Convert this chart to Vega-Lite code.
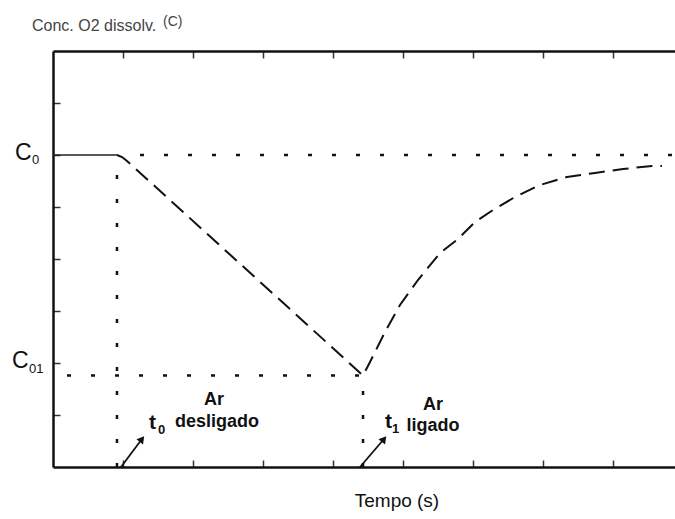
{
  "$schema": "https://vega.github.io/schema/vega-lite/v6.json",
  "width": 622,
  "height": 416,
  "autosize": {"type": "none"},
  "padding": {"left": 53, "top": 51, "right": 0, "bottom": 52},
  "background": "white",
  "config": {
    "view": {"stroke": null},
    "font": "Liberation Sans",
    "axis": {"grid": false, "labels": false, "title": null, "domainColor": "#111", "domainWidth": 2.5, "tickColor": "#333", "tickWidth": 1.5, "tickSize": -7}
  },
  "datasets": {
    "curve": [
      {"t": 0, "c": 6, "seg": "flat"},
      {"t": 0.914, "c": 6, "seg": "flat"},
      {"t": 0.914, "c": 6, "seg": "dash"},
      {"t": 0.986, "c": 5.96, "seg": "dash"},
      {"t": 1.057, "c": 5.885, "seg": "dash"},
      {"t": 4.429, "c": 1.76, "seg": "dash"},
      {"t": 4.529, "c": 2.019, "seg": "dash"},
      {"t": 4.743, "c": 2.596, "seg": "dash"},
      {"t": 4.957, "c": 3.115, "seg": "dash"},
      {"t": 5.214, "c": 3.596, "seg": "dash"},
      {"t": 5.529, "c": 4.115, "seg": "dash"},
      {"t": 5.786, "c": 4.385, "seg": "dash"},
      {"t": 6.029, "c": 4.712, "seg": "dash"},
      {"t": 6.286, "c": 4.942, "seg": "dash"},
      {"t": 6.6, "c": 5.192, "seg": "dash"},
      {"t": 6.957, "c": 5.423, "seg": "dash"},
      {"t": 7.343, "c": 5.577, "seg": "dash"},
      {"t": 7.743, "c": 5.654, "seg": "dash"},
      {"t": 8.143, "c": 5.731, "seg": "dash"},
      {"t": 8.557, "c": 5.788, "seg": "dash"},
      {"t": 8.7, "c": 5.788, "seg": "dash"}
    ],
    "guides": [
      {"x1": 1.243, "y1": 6, "x2": 8.886, "y2": 6},
      {"x1": 0.2, "y1": 1.76, "x2": 4.43, "y2": 1.76},
      {"x1": 0.914, "y1": 0, "x2": 0.914, "y2": 6},
      {"x1": 4.429, "y1": 0, "x2": 4.429, "y2": 1.76}
    ],
    "arrows": [
      {"x1": 0.971, "y1": 0, "x2": 1.271, "y2": 0.538},
      {"x1": 4.386, "y1": 0, "x2": 4.729, "y2": 0.538}
    ],
    "texts": [
      {"x": -0.3, "y": 8.385, "label": "Conc. O2 dissolv.", "role": "head"},
      {"x": 1.571, "y": 8.48, "label": "(C)", "role": "headSmall"},
      {"x": -0.543, "y": 5.904, "label": "C", "role": "clabel"},
      {"x": -0.3, "y": 5.827, "label": "0", "role": "csub"},
      {"x": -0.586, "y": 1.904, "label": "C", "role": "clabel"},
      {"x": -0.343, "y": 1.808, "label": "01", "role": "csub"},
      {"x": 2.3, "y": 1.183, "label": "Ar", "role": "annot"},
      {"x": 2.343, "y": 0.77, "label": "desligado", "role": "annot"},
      {"x": 5.429, "y": 1.096, "label": "Ar", "role": "annot"},
      {"x": 5.429, "y": 0.692, "label": "ligado", "role": "annot"},
      {"x": 1.371, "y": 0.731, "label": "t", "role": "tmain"},
      {"x": 1.5, "y": 0.635, "label": "0", "role": "tsub"},
      {"x": 4.743, "y": 0.75, "label": "t", "role": "tmain"},
      {"x": 4.843, "y": 0.654, "label": "1", "role": "tsub"},
      {"x": 4.914, "y": -0.77, "label": "Tempo (s)", "role": "xtitle"}
    ]
  },
  "layer": [
    {
      "data": {"name": "curve"},
      "transform": [{"filter": "datum.seg === 'flat'"}],
      "mark": {"type": "line", "color": "#222", "strokeWidth": 1.3},
      "encoding": {
        "x": {"field": "t", "type": "quantitative", "scale": {"domain": [0, 8.886], "nice": false, "zero": false},
              "axis": {"orient": "bottom", "values": [1, 2, 3, 4, 5, 6, 7, 8]}},
        "y": {"field": "c", "type": "quantitative", "scale": {"domain": [0, 8], "nice": false, "zero": false},
              "axis": {"orient": "left", "values": [1, 2, 3, 4, 5, 6, 7]}},
        "order": {"field": "t"}
      }
    },
    {
      "data": {"name": "curve"},
      "transform": [{"filter": "datum.seg === 'flat'"}],
      "mark": {"type": "line", "opacity": 0},
      "encoding": {
        "x": {"field": "t", "type": "quantitative", "axis": {"orient": "top", "values": [1, 2, 3, 4, 5, 6, 7, 8]}},
        "y": {"field": "c", "type": "quantitative"}
      }
    },
    {
      "data": {"name": "curve"},
      "transform": [{"filter": "datum.seg === 'dash'"}],
      "mark": {"type": "line", "color": "#111", "strokeWidth": 2, "strokeDash": [16, 8], "strokeCap": "butt"},
      "encoding": {
        "x": {"field": "t", "type": "quantitative", "axis": null},
        "y": {"field": "c", "type": "quantitative"},
        "order": {"field": "t"}
      }
    },
    {
      "data": {"name": "guides"},
      "mark": {"type": "rule", "color": "#111", "strokeWidth": 2.5, "strokeDash": [4, 20], "strokeCap": "butt"},
      "encoding": {
        "x": {"field": "x1", "type": "quantitative", "axis": null},
        "y": {"field": "y1", "type": "quantitative"},
        "x2": {"field": "x2"},
        "y2": {"field": "y2"}
      }
    },
    {
      "data": {"name": "arrows"},
      "mark": {"type": "rule", "color": "#111", "strokeWidth": 1.8},
      "encoding": {
        "x": {"field": "x1", "type": "quantitative", "axis": null},
        "y": {"field": "y1", "type": "quantitative"},
        "x2": {"field": "x2"},
        "y2": {"field": "y2"}
      }
    },
    {
      "data": {"name": "arrows"},
      "mark": {"type": "point", "shape": "triangle-up", "filled": true, "color": "#111", "size": 70, "angle": 38, "opacity": 1},
      "encoding": {
        "x": {"field": "x2", "type": "quantitative", "axis": null},
        "y": {"field": "y2", "type": "quantitative"}
      }
    },
    {
      "data": {"name": "texts"},
      "transform": [{"filter": "datum.role === 'head'"}],
      "mark": {"type": "text", "align": "left", "baseline": "alphabetic", "fontSize": 16, "color": "#444"},
      "encoding": {"x": {"field": "x", "type": "quantitative", "axis": null}, "y": {"field": "y", "type": "quantitative"}, "text": {"field": "label"}}
    },
    {
      "data": {"name": "texts"},
      "transform": [{"filter": "datum.role === 'headSmall'"}],
      "mark": {"type": "text", "align": "left", "baseline": "alphabetic", "fontSize": 14, "color": "#444"},
      "encoding": {"x": {"field": "x", "type": "quantitative", "axis": null}, "y": {"field": "y", "type": "quantitative"}, "text": {"field": "label"}}
    },
    {
      "data": {"name": "texts"},
      "transform": [{"filter": "datum.role === 'clabel'"}],
      "mark": {"type": "text", "align": "left", "baseline": "alphabetic", "fontSize": 23, "color": "#111"},
      "encoding": {"x": {"field": "x", "type": "quantitative", "axis": null}, "y": {"field": "y", "type": "quantitative"}, "text": {"field": "label"}}
    },
    {
      "data": {"name": "texts"},
      "transform": [{"filter": "datum.role === 'csub'"}],
      "mark": {"type": "text", "align": "left", "baseline": "alphabetic", "fontSize": 13, "color": "#111"},
      "encoding": {"x": {"field": "x", "type": "quantitative", "axis": null}, "y": {"field": "y", "type": "quantitative"}, "text": {"field": "label"}}
    },
    {
      "data": {"name": "texts"},
      "transform": [{"filter": "datum.role === 'annot'"}],
      "mark": {"type": "text", "align": "center", "baseline": "alphabetic", "fontSize": 18, "fontWeight": "bold", "color": "#111"},
      "encoding": {"x": {"field": "x", "type": "quantitative", "axis": null}, "y": {"field": "y", "type": "quantitative"}, "text": {"field": "label"}}
    },
    {
      "data": {"name": "texts"},
      "transform": [{"filter": "datum.role === 'tmain'"}],
      "mark": {"type": "text", "align": "left", "baseline": "alphabetic", "fontSize": 21, "fontWeight": "bold", "color": "#111"},
      "encoding": {"x": {"field": "x", "type": "quantitative", "axis": null}, "y": {"field": "y", "type": "quantitative"}, "text": {"field": "label"}}
    },
    {
      "data": {"name": "texts"},
      "transform": [{"filter": "datum.role === 'tsub'"}],
      "mark": {"type": "text", "align": "left", "baseline": "alphabetic", "fontSize": 13, "fontWeight": "bold", "color": "#111"},
      "encoding": {"x": {"field": "x", "type": "quantitative", "axis": null}, "y": {"field": "y", "type": "quantitative"}, "text": {"field": "label"}}
    },
    {
      "data": {"name": "texts"},
      "transform": [{"filter": "datum.role === 'xtitle'"}],
      "mark": {"type": "text", "align": "center", "baseline": "alphabetic", "fontSize": 19, "color": "#111"},
      "encoding": {"x": {"field": "x", "type": "quantitative", "axis": null}, "y": {"field": "y", "type": "quantitative"}, "text": {"field": "label"}}
    }
  ],
  "resolve": {"axis": {"x": "independent"}}
}
